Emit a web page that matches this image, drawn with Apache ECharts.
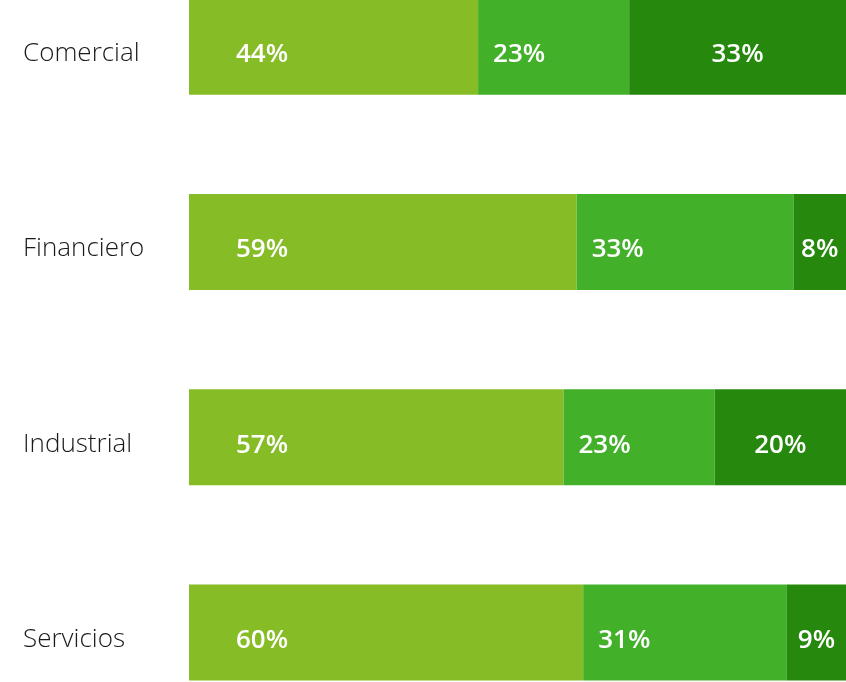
<!DOCTYPE html>
<html>
<head>
<meta charset="utf-8">
<script src="https://cdn.jsdelivr.net/npm/echarts@6/dist/echarts.min.js"></script>
<style>
  html, body { margin: 0; padding: 0; background: #ffffff; overflow: hidden; }
  /* The plot runs a little past the top and bottom of the page */
  #chart { width: 846px; height: 781px; margin-top: -51px; }
</style>
</head>
<body>
<div id="chart"></div>
<script>
// Share of each tier per sector (percent)
const sectors = ['Comercial', 'Financiero', 'Industrial', 'Servicios'];
const tier1 = [44, 59, 57, 60];
const tier2 = [23, 33, 23, 31];
const tier3 = [33, 8, 20, 9];

const tierColors = ['#86BC25', '#43B02A', '#26890D'];

const chart = echarts.init(document.getElementById('chart'), null, { renderer: 'canvas' });

function valueLabel(position, distance) {
  return {
    show: true,
    position: position,
    distance: distance,
    offset: [0, 8],
    formatter: '{c}%',
    color: '#ffffff',
    fontFamily: 'Open Sans',
    fontWeight: 600,
    fontSize: 26
  };
}

function tierSeries(data, color, label) {
  return {
    type: 'bar',
    stack: 'total',
    data: data,
    barWidth: 96,
    itemStyle: { color: color },
    label: label,
    emphasis: { disabled: true },
    silent: true
  };
}

chart.setOption({
  animation: false,
  backgroundColor: '#ffffff',
  grid: { left: 189, right: 0, top: 0, bottom: 0, containLabel: false },
  xAxis: {
    type: 'value',
    min: 0,
    max: 100,
    show: false
  },
  yAxis: {
    type: 'category',
    data: sectors,
    inverse: true,
    axisLine: { show: false },
    axisTick: { show: false },
    splitLine: { show: false },
    axisLabel: {
      align: 'left',
      margin: 166,
      formatter: (name) => '{n|' + name + '}',
      rich: {
        n: {
          color: '#1a1a1a',
          fontFamily: 'Open Sans',
          fontWeight: 300,
          fontSize: 26,
          padding: [14, 0, 0, 0]
        }
      }
    }
  },
  series: [
    tierSeries(tier1, tierColors[0], valueLabel('insideLeft', 47)),
    tierSeries(tier2, tierColors[1], valueLabel('insideLeft', 15)),
    tierSeries(tier3, tierColors[2], valueLabel('inside', 0))
  ]
});
</script>
</body>
</html>
